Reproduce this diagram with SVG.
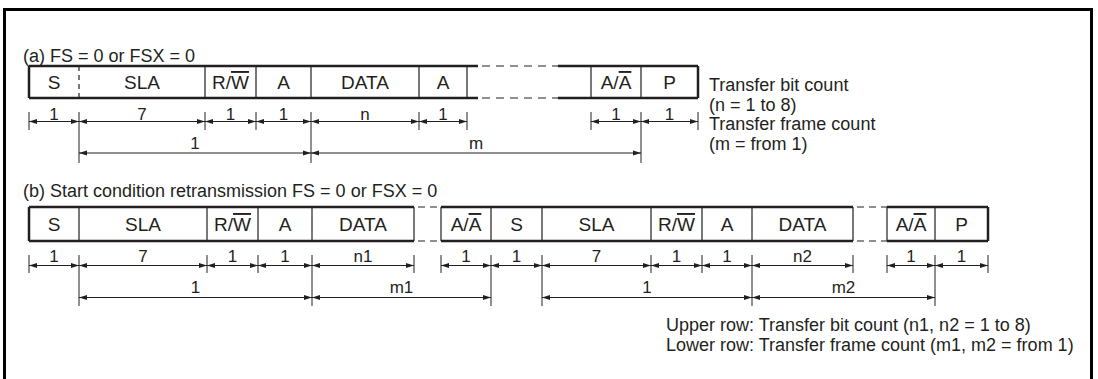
<svg xmlns="http://www.w3.org/2000/svg" width="1098" height="379" viewBox="0 0 1098 379">
<style>
text{font-family:"Liberation Sans",Arial,sans-serif;fill:#231f20}
.t{font-size:18px}
.c{font-size:19px;text-anchor:middle}
.d{font-size:17px;text-anchor:middle}
.ol{text-decoration:overline}
.thick{stroke:#231f20;stroke-width:2.5;fill:none}
.thin{stroke:#231f20;stroke-width:1.2;fill:none}
.dash{stroke:#231f20;stroke-width:1.2;fill:none;stroke-dasharray:8,6}
.dim{stroke:#231f20;stroke-width:1;fill:none;marker-start:url(#ah);marker-end:url(#ah)}
.tick{stroke:#231f20;stroke-width:1;fill:none}
</style>
<defs>
<marker id="ah" markerUnits="userSpaceOnUse" markerWidth="8" markerHeight="6" refX="8" refY="3" orient="auto-start-reverse">
<path d="M0,0.5 L8,3 L0,5.5 Z" fill="#231f20"/>
</marker>
</defs>
<rect width="1098" height="379" fill="#fff"/>
<path d="M4.5,382 V9.5 H1091.5 V382" stroke="#000" stroke-width="3" fill="none"/>

<text class="t" x="23" y="62">(a) FS = 0 or FSX = 0</text>

<g id="frameA">
<path class="thick" d="M29,66 V98 M29,66 H478 M558,66 H698 M29,98 H478 M558,98 H698 M698,66 V98"/>
<path class="dash" d="M482,66 H558 M482,98 H558"/>
<path class="dash" d="M79,66 V98" style="stroke-dasharray:5,4"/>
<path class="thin" d="M205,66 V98 M256,66 V98 M311,66 V98 M419,66 V98 M467,66 V98 M591,66 V98 M641,66 V98"/>
</g>
<g id="cellsA">
<text class="c" x="54" y="89">S</text>
<text class="c" x="142" y="89">SLA</text>
<text class="c" x="230.5" y="89">R/<tspan class="ol">W</tspan></text>
<text class="c" x="283.5" y="89">A</text>
<text class="c" x="365" y="89">DATA</text>
<text class="c" x="443" y="89">A</text>
<text class="c" x="616" y="89">A/<tspan class="ol">A</tspan></text>
<text class="c" x="669.5" y="89">P</text>
</g>

<g id="connectorsA">
<path class="tick" d="M29,112 V130 M205,112 V130 M256,112 V130 M419,112 V130 M467,112 V130 M591,112 V130 M698,112 V130 M79,112 V163 M311,112 V163 M641,112 V163"/>
<path class="dim" d="M29,121.5 H79"/>
<path class="dim" d="M79,121.5 H205"/>
<path class="dim" d="M205,121.5 H256"/>
<path class="dim" d="M256,121.5 H311"/>
<path class="dim" d="M311,121.5 H419"/>
<path class="dim" d="M419,121.5 H467"/>
<path class="dim" d="M591,121.5 H641"/>
<path class="dim" d="M641,121.5 H698"/>
<path class="dim" d="M79,153 H311"/>
<path class="dim" d="M311,153 H641"/>
</g>
<g id="dimLabelsA">
<text class="d" x="54" y="120">1</text>
<text class="d" x="142" y="120">7</text>
<text class="d" x="230.5" y="120">1</text>
<text class="d" x="283.5" y="120">1</text>
<text class="d" x="365" y="120">n</text>
<text class="d" x="443" y="120">1</text>
<text class="d" x="616" y="120">1</text>
<text class="d" x="669.5" y="120">1</text>
<text class="d" x="195" y="149">1</text>
<text class="d" x="476" y="149">m</text>
</g>

<g id="noteA">
<text class="t" x="709" y="91">Transfer bit count</text>
<text class="t" x="709" y="110.5">(n = 1 to 8)</text>
<text class="t" x="709" y="130">Transfer frame count</text>
<text class="t" x="709" y="149.5">(m = from 1)</text>
</g>

<text class="t" x="23" y="197">(b) Start condition retransmission FS = 0 or FSX = 0</text>

<g id="frameB">
<path class="thick" d="M29,207 V241 M29,207 H414 M441,207 H853 M887,207 H988 M29,241 H414 M441,241 H853 M887,241 H988 M988,207 V241"/>
<path class="dash" d="M418,207 H441 M418,241 H441 M857,207 H887 M857,241 H887" style="stroke-dasharray:7,5"/>
<path class="thin" d="M79,207 V241 M207,207 V241 M258,207 V241 M312,207 V241 M414,207 V241 M441,207 V241 M491,207 V241 M542,207 V241 M651,207 V241 M702,207 V241 M752,207 V241 M853,207 V241 M887,207 V241 M935,207 V241"/>
</g>
<g id="cellsB">
<text class="c" x="54" y="231">S</text>
<text class="c" x="143" y="231">SLA</text>
<text class="c" x="232.5" y="231">R/<tspan class="ol">W</tspan></text>
<text class="c" x="285" y="231">A</text>
<text class="c" x="363" y="231">DATA</text>
<text class="c" x="466" y="231">A/<tspan class="ol">A</tspan></text>
<text class="c" x="516.5" y="231">S</text>
<text class="c" x="596.5" y="231">SLA</text>
<text class="c" x="676.5" y="231">R/<tspan class="ol">W</tspan></text>
<text class="c" x="727" y="231">A</text>
<text class="c" x="802.5" y="231">DATA</text>
<text class="c" x="911" y="231">A/<tspan class="ol">A</tspan></text>
<text class="c" x="961.5" y="231">P</text>
</g>

<g id="connectorsB">
<path class="tick" d="M29,255 V273 M207,255 V273 M258,255 V273 M414,255 V273 M441,255 V273 M651,255 V273 M702,255 V273 M853,255 V273 M887,255 V273 M988,255 V273 M79,255 V306 M312,255 V306 M491,255 V306 M542,255 V306 M752,255 V306 M935,255 V306"/>
<path class="dim" d="M29,265.5 H79"/>
<path class="dim" d="M79,265.5 H207"/>
<path class="dim" d="M207,265.5 H258"/>
<path class="dim" d="M258,265.5 H312"/>
<path class="dim" d="M312,265.5 H414"/>
<path class="dim" d="M441,265.5 H491"/>
<path class="dim" d="M491,265.5 H542"/>
<path class="dim" d="M542,265.5 H651"/>
<path class="dim" d="M651,265.5 H702"/>
<path class="dim" d="M702,265.5 H752"/>
<path class="dim" d="M752,265.5 H853"/>
<path class="dim" d="M887,265.5 H935"/>
<path class="dim" d="M935,265.5 H988"/>
<path class="dim" d="M79,297.5 H312"/>
<path class="dim" d="M312,297.5 H491"/>
<path class="dim" d="M542,297.5 H752"/>
<path class="dim" d="M752,297.5 H935"/>
</g>
<g id="dimLabelsB">
<text class="d" x="54" y="262">1</text>
<text class="d" x="143" y="262">7</text>
<text class="d" x="232.5" y="262">1</text>
<text class="d" x="285" y="262">1</text>
<text class="d" x="363" y="262">n1</text>
<text class="d" x="466" y="262">1</text>
<text class="d" x="516.5" y="262">1</text>
<text class="d" x="596.5" y="262">7</text>
<text class="d" x="676.5" y="262">1</text>
<text class="d" x="727" y="262">1</text>
<text class="d" x="802.5" y="262">n2</text>
<text class="d" x="911" y="262">1</text>
<text class="d" x="961.5" y="262">1</text>
<text class="d" x="195.5" y="292.5">1</text>
<text class="d" x="401.5" y="292.5">m1</text>
<text class="d" x="647" y="292.5">1</text>
<text class="d" x="843.5" y="292.5">m2</text>
</g>

<g id="noteB">
<text class="t" x="666" y="331">Upper row: Transfer bit count (n1, n2 = 1 to 8)</text>
<text class="t" x="666" y="351">Lower row: Transfer frame count (m1, m2 = from 1)</text>
</g>
</svg>
